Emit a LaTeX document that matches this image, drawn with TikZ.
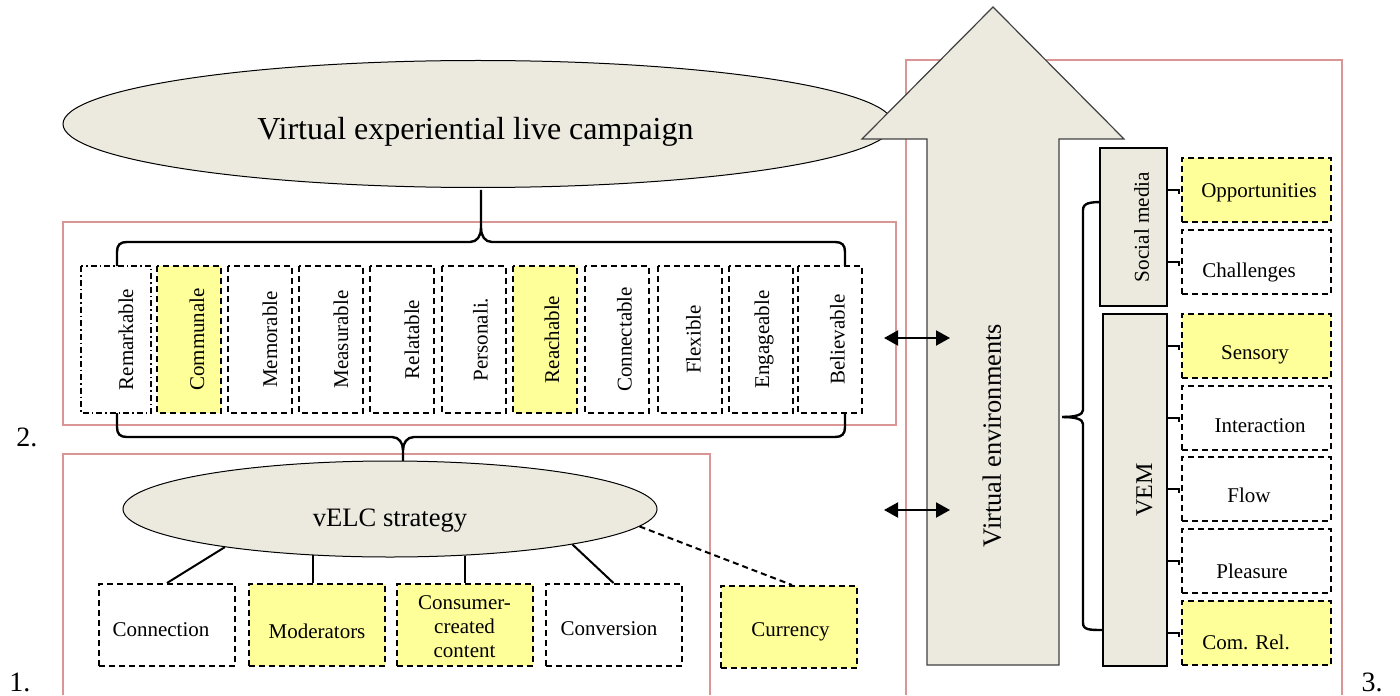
\documentclass[tikz,border=0pt]{standalone}
\usepackage{fontspec}
\setmainfont{Liberation Serif}
\usetikzlibrary{arrows.meta,shapes.geometric}
\definecolor{beige}{RGB}{236,234,223}
\definecolor{pale}{RGB}{255,255,153}
\definecolor{redline}{RGB}{217,150,148}
\definecolor{edgegray}{RGB}{64,64,64}
\newcommand{\sh}[3]{\raisebox{#2}[\height][\depth]{\hspace*{#1}#3\hspace*{-#1}}}
\begin{document}
\begin{tikzpicture}[x=0.5pt,y=-0.5pt,
  groupbox/.style={draw=redline,line width=0.6pt},
  dashbox/.style={draw,line width=1pt,dash pattern=on 3pt off 2pt,inner sep=0pt,font=\fontsize{10.5}{12}\selectfont},
  vbox/.style={dashbox,rotate=90,minimum width=73.5pt,minimum height=32pt},
  lbox/.style={dashbox,minimum width=68pt,minimum height=41pt,align=center},
  rbox/.style={dashbox,minimum width=74.5pt,minimum height=32pt},
  hl/.style={fill=pale},
  oval/.style={ellipse,draw=black,line width=0.5pt,fill=beige,inner sep=0pt},
  solidbox/.style={draw=black,line width=0.8pt,fill=beige,rotate=90,inner sep=0pt},
  bracepath/.style={line width=1.2pt,black},
  conn/.style={line width=1pt,black},
  biarrow/.style={line width=1pt,{Triangle[length=7pt,width=7.5pt]}-{Triangle[length=7pt,width=7.5pt]}},
  numlabel/.style={font=\fontsize{14}{16}\selectfont}
]
\useasboundingbox (0,0) rectangle (1400,695);

% group frames
\draw[groupbox] (63,222) rectangle (896,425);
\draw[groupbox] (63,695) -- (63,454) -- (710,454) -- (710,695);
\draw[groupbox] (906,695) -- (906,60) -- (1342,60) -- (1342,695);

% top ellipse
\node[oval,minimum width=415pt,minimum height=63.5pt,font=\fontsize{16}{19}\selectfont] (vlc) at (478,124)
  {\sh{-1.25pt}{-4pt}{Virtual experiential live campaign}};

% braces
\draw[bracepath] (117,266) -- (117,252) .. controls (117,245) and (120,242) .. (127,242) -- (470,242)
  .. controls (477,242) and (481,236) .. (481,228) -- (481,190);
\draw[bracepath] (845,266) -- (845,252) .. controls (845,245) and (842,242) .. (835,242) -- (492,242)
  .. controls (485,242) and (481,236) .. (481,228);
\draw[bracepath] (117,413) -- (117,427) .. controls (117,434) and (120,437) .. (127,437) -- (392,437)
  .. controls (399,437) and (403,443) .. (403,450) -- (403,462);
\draw[bracepath] (845,413) -- (845,427) .. controls (845,434) and (842,437) .. (835,437) -- (414,437)
  .. controls (407,437) and (403,443) .. (403,450);

% vertical criteria boxes
\node[vbox,dash pattern=on 3pt off 1.5pt on 0.75pt off 1.5pt,minimum height=35pt] (b1) at (116,339.5) {\sh{0pt}{-5pt}{Remarkable}};
\node[vbox,hl] (b2) at (189,339.5) {\sh{0pt}{-4pt}{Communale}};
\node[vbox] (b3) at (260,339.5) {\sh{0pt}{-5pt}{Memorable}};
\node[vbox] (b4) at (331,339.5) {\sh{0pt}{-5pt}{Measurable}};
\node[vbox] (b5) at (402,339.5) {\sh{0pt}{-5pt}{Relatable}};
\node[vbox] (b6) at (473.5,339.5) {\sh{0pt}{-3.5pt}{Personali.}};
\node[vbox,hl] (b7) at (545,339.5) {\sh{0pt}{-3.5pt}{Reachable}};
\node[vbox] (b8) at (616.5,339.5) {\sh{0pt}{-4pt}{Connectable}};
\node[vbox] (b9) at (689.5,339.5) {\sh{0pt}{-2pt}{Flexible}};
\node[vbox] (b10) at (760.5,339.5) {\sh{0pt}{-1.75pt}{Engageable}};
\node[vbox] (b11) at (830,339.5) {\sh{0pt}{-3.75pt}{Believable}};

% vELC strategy
\node[oval,minimum width=267pt,minimum height=48pt,font=\fontsize{13.3}{16}\selectfont] (velc) at (390,509)
  {\sh{0pt}{-6pt}{vELC strategy}};
\node[lbox] (con) at (167,625) {\sh{-3pt}{-2.5pt}{Connection}};
\node[lbox,hl] (mod) at (317,625) {\sh{0pt}{-3pt}{Moderators}};
\node[lbox,hl] (ccc) at (464.5,625) {\raisebox{-1.75pt}[\height][\depth]{\begin{tabular}{@{}c@{}}Consumer-\\created\\content\end{tabular}}};
\node[lbox] (cnv) at (613.5,625) {\sh{-2.25pt}{-2pt}{Conversion}};
\node[lbox,hl] (cur) at (789,627) {\sh{0.75pt}{-2.5pt}{Currency}};

\draw[conn] (velc.193) -- (con.north);
\draw[conn] (velc.211.5) -- (velc.211.5 |- mod.north);
\draw[conn] (velc.-32.3) -- (velc.-32.3 |- ccc.north);
\draw[conn] (velc.-11.7) -- (cnv.north);
\draw[line width=1pt,dash pattern=on 3pt off 2pt] (velc.-4) -- ([xshift=1.5pt]cur.north);

% virtual environments arrow
\draw[fill=beige,draw=edgegray,line width=0.6pt] (993,7) -- (1124,139) -- (1059,139) -- (1059,665)
  -- (927,665) -- (927,139) -- (862,139) -- cycle;
\node[rotate=90,font=\fontsize{13.2}{15}\selectfont,inner sep=0pt] (ve) at (992,435.5) {Virtual environments};

% two-way arrows
\coordinate (p1a) at (884,338);
\coordinate (p1b) at (950,338);
\coordinate (p2a) at (884,510);
\coordinate (p2b) at (950,510);
\draw[biarrow] (p1a) -- (p1b);
\draw[biarrow] (p2a) -- (p2b);

% right brace
\draw[bracepath] (1103,202) .. controls (1090,202) and (1083,203) .. (1083,210) -- (1083,410)
  .. controls (1083,415) and (1075,417) .. (1062,417);
\draw[bracepath] (1062,417) .. controls (1075,417) and (1083,419) .. (1083,424) -- (1083,623)
  .. controls (1083,630) and (1090,630) .. (1103,630);

% social media / VEM
\node[solidbox,minimum width=79pt,minimum height=33.5pt,font=\fontsize{10.6}{12}\selectfont] (sm) at (1133.5,227) {\sh{0pt}{-4pt}{Social media}};
\node[solidbox,minimum width=176pt,minimum height=32pt,font=\fontsize{12}{14}\selectfont] (vem) at (1135,490) {\sh{0pt}{-4.75pt}{VEM}};

\node[rbox,hl] (opp) at (1256.5,190) {\sh{1.25pt}{-1.5pt}{Opportunities}};
\node[rbox] (cha) at (1256.5,262) {\sh{-3.75pt}{-5.25pt}{Challenges}};
\node[rbox,hl] (sen) at (1256.5,346) {\sh{-0.75pt}{-4.25pt}{Sensory}};
\node[rbox] (int) at (1256.5,418) {\sh{1.75pt}{-4pt}{Interaction}};
\node[rbox] (flo) at (1256.5,489) {\sh{-3.75pt}{-3pt}{Flow}};
\node[rbox] (ple) at (1256.5,561) {\sh{-2.25pt}{-5pt}{Pleasure}};
\node[rbox,hl] (com) at (1256.5,633) {\sh{-5.25pt}{-4.5pt}{Com. Rel.}};

% stubs (south anchor of the rotated boxes is their right side)
\foreach \t in {opp,cha} {
  \draw[conn] (sm.south |- \t.west) -| ([xshift=-1pt,yshift=-2pt]\t.west);
}
\foreach \t in {sen,int,flo,ple,com} {
  \draw[conn] (vem.south |- \t.west) -| ([xshift=-1pt,yshift=-2pt]\t.west);
}

% group numbers
\node[numlabel] (n1) at (20,682) {1.};
\node[numlabel] (n2) at (27,437) {2.};
\node[numlabel] (n3) at (1372,682) {3.};
\end{tikzpicture}
\end{document}
